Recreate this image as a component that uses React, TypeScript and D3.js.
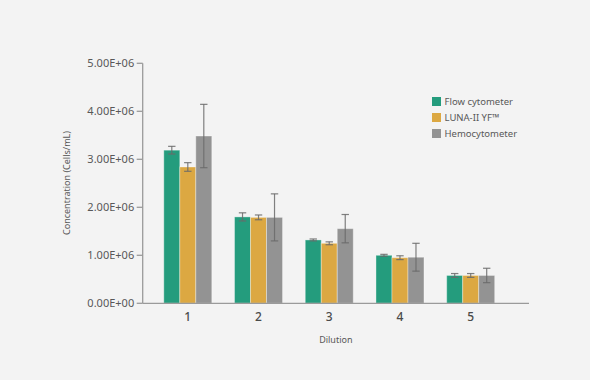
import React from "react";
import * as d3 from "d3";

const categories = ["1", "2", "3", "4", "5"];
const seriesNames = ["Flow cytometer", "LUNA-II YF™", "Hemocytometer"];
const flowValues = [3.19e6, 1.8e6, 1.32e6, 1.0e6, 0.58e6];
const flowErrors = [0.08e6, 0.085e6, 0.02e6, 0.02e6, 0.04e6];
const lunaValues = [2.84e6, 1.79e6, 1.25e6, 0.95e6, 0.58e6];
const lunaErrors = [0.09e6, 0.05e6, 0.03e6, 0.04e6, 0.04e6];
const hemoValues = [3.485e6, 1.79e6, 1.555e6, 0.96e6, 0.58e6];
const hemoErrors = [0.66e6, 0.49e6, 0.295e6, 0.29e6, 0.15e6];
const yTicks = [0, 1e6, 2e6, 3e6, 4e6, 5e6];
const colors = ["#249c7d", "#dca842", "#939393"];

const W = 590, H = 380;
const axisLeft = 142.7, axisRight = 529, y0 = 303.3, yTop = 63.3;
const barW = 16;

function fmt(v: number) {
  const [m, e] = v.toExponential(2).split("e");
  const sign = e.startsWith("-") ? "-" : "+";
  const n = Math.abs(parseInt(e, 10));
  return `${m}E${sign}${n < 10 ? "0" + n : n}`;
}

export default function App() {
  const x = d3.scalePoint<string>().domain(categories).range([187.8, 470.7]);
  const y = d3.scaleLinear().domain([0, 5e6]).range([y0, yTop]);
  const series = [
    { vals: flowValues, errs: flowErrors },
    { vals: lunaValues, errs: lunaErrors },
    { vals: hemoValues, errs: hemoErrors },
  ];
  const font = "'Noto Sans', 'Open Sans', sans-serif";
  const textColor = "#585858";
  return (
    <svg width={W} height={H} style={{ position: "absolute", left: 0, top: 0 }} fontFamily={font}>
      <rect x={0} y={0} width={W} height={H} fill="#f3f3f3" />
      {series.map((s, si) =>
        categories.map((c, ci) => {
          const cx = x(c)!;
          const left = cx - 1.5 * barW + si * barW;
          const top = y(s.vals[ci]);
          return (
            <rect key={`b${si}-${ci}`} x={left} y={top} width={barW} height={y0 - top}
              fill={colors[si]} stroke="rgba(255,255,255,0.35)" strokeWidth={1} />
          );
        })
      )}
      {series.map((s, si) =>
        categories.map((c, ci) => {
          const cx = x(c)! - barW + si * barW;
          const hi = y(s.vals[ci] + s.errs[ci]);
          const lo = y(s.vals[ci] - s.errs[ci]);
          return (
            <g key={`e${si}-${ci}`} stroke="#6a6a6a" strokeOpacity={0.85} strokeWidth={1.2}>
              <line x1={cx} x2={cx} y1={hi} y2={lo} />
              <line x1={cx - 3.7} x2={cx + 3.7} y1={hi} y2={hi} />
              <line x1={cx - 3.7} x2={cx + 3.7} y1={lo} y2={lo} />
            </g>
          );
        })
      )}
      <line x1={axisLeft} x2={axisLeft} y1={yTop} y2={y0} stroke="#9a9a9a" strokeWidth={1.3} />
      {yTicks.map((t) => (
        <g key={`t${t}`}>
          <line x1={axisLeft - 6} x2={axisLeft} y1={y(t)} y2={y(t)} stroke="#9a9a9a" strokeWidth={1.3} />
          <text x={axisLeft - 8.5} y={y(t)} dy="0.35em" textAnchor="end" fontSize={11} fill={textColor}>
            {fmt(t)}
          </text>
        </g>
      ))}
      <line x1={axisLeft} x2={axisRight} y1={y0} y2={y0} stroke="#9a9a9a" strokeWidth={1.3} />
      {categories.map((c) => (
        <text key={`x${c}`} x={x(c)!} y={320.7} textAnchor="middle" fontSize={12} fontWeight={500} fill="#4a4a4a">
          {c}
        </text>
      ))}
      <text x={(axisLeft + axisRight) / 2} y={343} textAnchor="middle" fontSize={9} fill={textColor}>
        Dilution
      </text>
      <text transform={`translate(70,183) rotate(-90)`} textAnchor="middle" fontSize={9} fill={textColor}>
        Concentration (Cells/mL)
      </text>
      {seriesNames.map((n, i) => (
        <g key={`l${i}`} transform={`translate(432,${97 + i * 16})`}>
          <rect x={0} y={0} width={9} height={9} fill={colors[i]} />
          <text x={12.5} y={4.5} dy="0.35em" fontSize={9.5} fill={textColor}>
            {n}
          </text>
        </g>
      ))}
    </svg>
  );
}
